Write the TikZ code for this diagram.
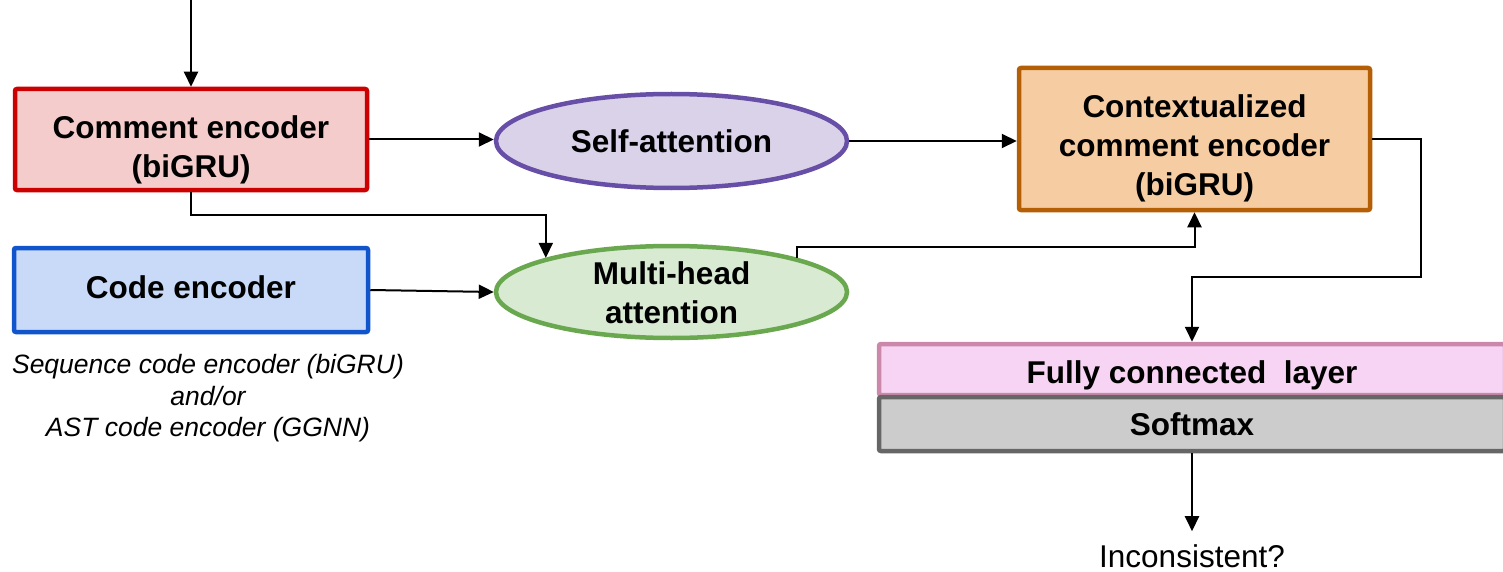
\documentclass[tikz,border=0pt]{standalone}
\usepackage{fontspec}
\setmainfont{Liberation Sans}
\usetikzlibrary{arrows.meta,shapes.geometric}
\definecolor{redB}{HTML}{CC0000}
\definecolor{redF}{HTML}{F4CCCC}
\definecolor{blueB}{HTML}{1155CC}
\definecolor{blueF}{HTML}{C9DAF8}
\definecolor{purpB}{HTML}{674EA7}
\definecolor{purpF}{HTML}{D9D2E9}
\definecolor{greenB}{HTML}{6AA84F}
\definecolor{greenF}{HTML}{D9EAD3}
\definecolor{orangeB}{HTML}{B45F06}
\definecolor{orangeF}{HTML}{F6CDA2}
\definecolor{pinkB}{HTML}{CC88AA}
\definecolor{pinkF}{HTML}{F7D4F3}
\definecolor{grayB}{HTML}{666666}
\definecolor{grayF}{HTML}{CCCCCC}
\tikzset{
  boxnode/.style={draw, rectangle, rounded corners=2pt, line width=4.5pt, inner sep=0pt, align=center,
    font=\fontsize{31.5}{39}\selectfont\bfseries},
  ellnode/.style={draw, ellipse, line width=4.5pt, inner sep=-8pt, align=center,
    font=\fontsize{31.5}{39}\selectfont\bfseries},
  arr/.style={-{Triangle[length=15pt,width=14pt]}, line width=2pt}
}
\begin{document}
\begin{tikzpicture}[x=1pt,y=-1pt]
\useasboundingbox (0,0) rectangle (1503,572);

\node[boxnode, draw=redB, fill=redF, minimum width=352pt, minimum height=101pt, text height=83pt, text depth=7pt] (ce) at (191,139.5) {Comment encoder\\(biGRU)};
\node[boxnode, draw=blueB, fill=blueF, minimum width=354pt, minimum height=84pt, text height=23pt, text depth=6pt] (cd) at (191,290) {Code encoder};
\node[font=\fontsize{26.5}{31.5}\selectfont\itshape, align=center, inner sep=0pt] (note) at (208,398.5) {Sequence code encoder (biGRU)\\and/or\\AST code encoder (GGNN)};

\node[ellnode, draw=purpB, fill=purpF, minimum width=351pt, minimum height=94pt] (sa) at (671.5,141) {Self-attention};
\node[ellnode, draw=greenB, fill=greenF, minimum width=351pt, minimum height=92pt, text height=70pt, text depth=7pt, inner sep=-20pt] (mh) at (671.5,292) {Multi-head\\attention};

\node[boxnode, draw=orangeB, fill=orangeF, minimum width=351pt, minimum height=142pt, text height=120pt, text depth=7pt] (cx) at (1194.5,139) {Contextualized\\comment encoder\\(biGRU)};

\node[boxnode, draw=pinkB, fill=pinkF, minimum width=626pt, minimum height=51pt, text height=34pt, text depth=6pt] (fc) at (1192,369.5) {Fully connected\ \ layer};
\node[boxnode, draw=grayB, fill=grayF, minimum width=626pt, minimum height=54pt] (sm) at (1192,424) {Softmax};

\node[font=\fontsize{31.5}{38}\selectfont, inner sep=13pt] (out) at (1192,556) {Inconsistent?};

\coordinate (in) at (191,0);

\draw[arr] (in) -- (ce.north);
\draw[arr] (ce.east) -- (ce.east -| sa.west);
\draw[arr] (ce.south) -- ++(0,23) -| (mh.north west);
\draw[arr] (cd.east) -- (mh.west);
\draw[arr] (sa.east) -- (sa.east -| cx.west);
\draw[arr] (mh.north east) -- ++(0,-11) -| (cx.south);
\draw[arr] (cx.east) -- ++(49,0) -- ++(0,138) -| (fc.north);
\draw[arr] (sm.south) -- (out.north);
\end{tikzpicture}
\end{document}
